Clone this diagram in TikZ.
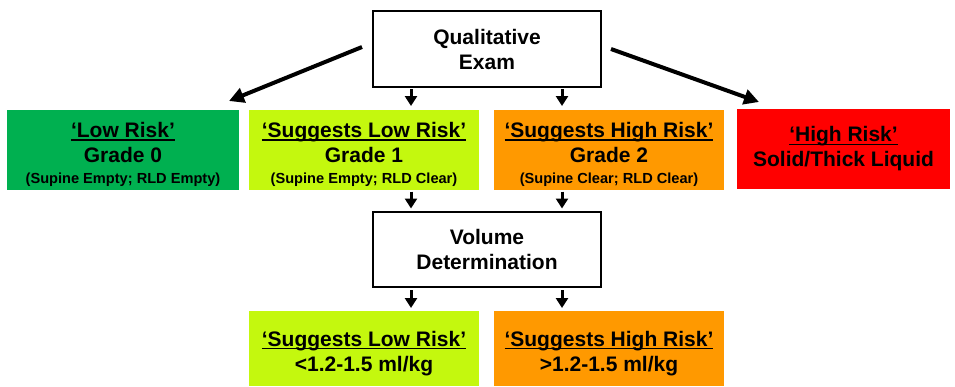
\documentclass[tikz,border=0pt]{standalone}
\usepackage{fontspec}
\setmainfont{Liberation Sans}
\usetikzlibrary{arrows.meta}
\definecolor{cgreen}{RGB}{0,176,80}
\definecolor{clime}{RGB}{196,248,14}
\definecolor{corange}{RGB}{255,153,0}
\definecolor{cred}{RGB}{255,0,0}
\newcommand\ulx[1]{\setbox0\hbox{#1}\rlap{\rule[-3.2pt]{\wd0}{1.6pt}}\box0}
\newcommand\dn{\rule{0pt}{25pt}}
\tikzset{
  box/.style={inner sep=0pt, outer sep=0pt, align=center, font=\bfseries\fontsize{21}{25}\selectfont},
  whitebox/.style={box, draw=black, line width=1.6pt, fill=white},
  big/.style={-{Triangle[length=15pt,width=15pt]}, line width=4pt},
  small/.style={-{Triangle[length=10pt,width=12pt]}, line width=3pt},
}
\newcommand\sm[1]{{\fontsize{14.6}{17}\selectfont #1}}
\begin{document}
\begin{tikzpicture}[x=1pt,y=-1pt]
\useasboundingbox (0,0) rectangle (955,386);
% boxes
\node[whitebox, minimum width=228pt, minimum height=76pt] (qual) at (487,49) {Qualitative\\Exam};
\node[box, fill=cgreen, minimum width=232pt, minimum height=80pt] (g0) at (123,149.5) {\dn\ulx{‘Low Risk’}\\Grade 0\\[-4pt]\sm{(Supine Empty; RLD Empty)}};
\node[box, fill=clime, minimum width=230pt, minimum height=80pt] (g1) at (364,149.5) {\dn\ulx{‘Suggests Low Risk’}\\Grade 1\\[-4pt]\sm{(Supine Empty; RLD Clear)}};
\node[box, fill=corange, minimum width=230pt, minimum height=80pt] (g2) at (609,149.5) {\dn\ulx{‘Suggests High Risk’}\\Grade 2\\[-4pt]\sm{(Supine Clear; RLD Clear)}};
\node[box, fill=cred, minimum width=213pt, minimum height=80pt] (hr) at (843.5,149) {\ulx{‘High Risk’}\\Solid/Thick Liquid};
\node[whitebox, minimum width=228pt, minimum height=75pt] (vol) at (487,249.5) {Volume\\Determination};
\node[box, fill=clime, minimum width=230pt, minimum height=75pt] (v1) at (364,348.5) {\dn\ulx{‘Suggests Low Risk’}\\<1.2-1.5 ml/kg};
\node[box, fill=corange, minimum width=230pt, minimum height=75pt] (v2) at (609,348.5) {\dn\ulx{‘Suggests High Risk’}\\>1.2-1.5 ml/kg};
% connectors
\coordinate (qL) at (362,47);
\coordinate (qR) at (611,49);
\coordinate (tL) at (229,101);
\coordinate (tR) at (759,102);
\draw[big] (qL) -- (tL);
\draw[big] (qR) -- (tR);
\draw[small] (qual.south -| g1.north) ++(47,2) -- ++(0,17);
\draw[small] (qual.south -| g2.north) ++(-47,2) -- ++(0,17);
\draw[small] (g1.south) ++(47,2) -- ++(0,17);
\draw[small] (g2.south) ++(-47,2) -- ++(0,17);
\draw[small] (vol.south -| g1.south) ++(47,3) -- ++(0,18);
\draw[small] (vol.south -| g2.south) ++(-47,3) -- ++(0,18);
\end{tikzpicture}
\end{document}
